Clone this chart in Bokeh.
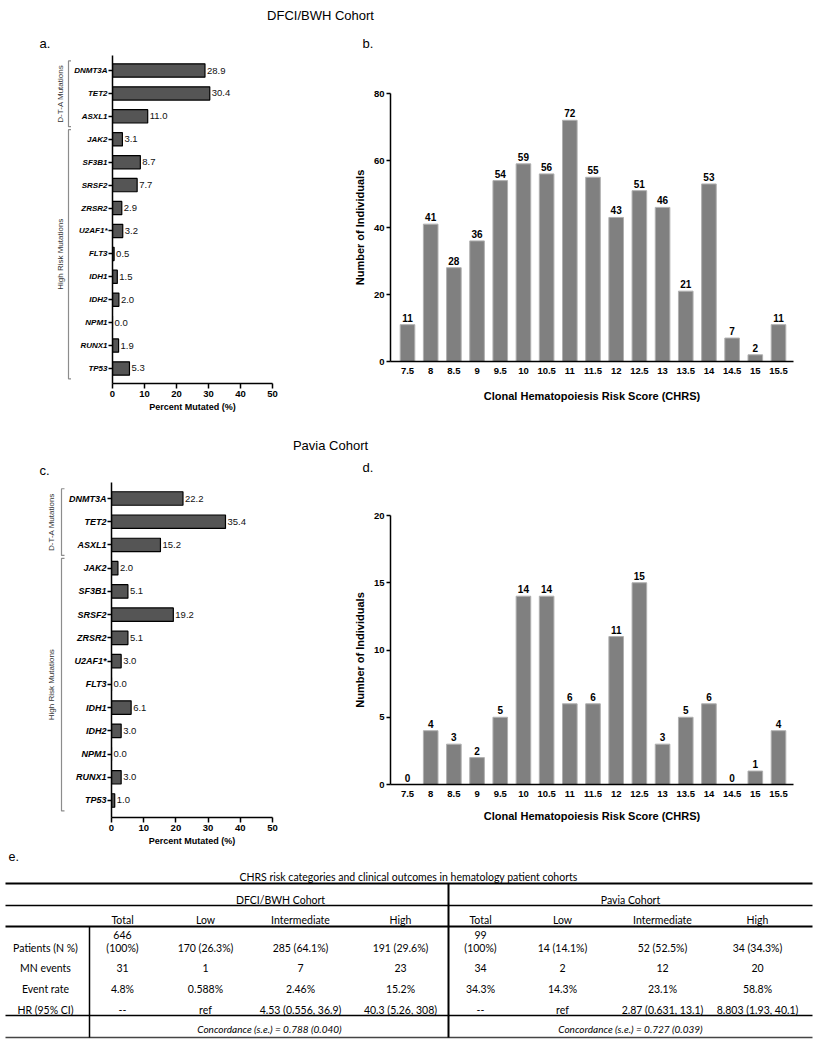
import math
from bokeh.plotting import figure
from bokeh.layouts import column, row
from bokeh.models import Range1d, FixedTicker
from bokeh.embed import file_html
from bokeh.resources import INLINE
from bokeh.core.properties import value

# ---------------- data ----------------
genes = ["DNMT3A", "TET2", "ASXL1", "JAK2", "SF3B1", "SRSF2", "ZRSR2",
         "U2AF1*", "FLT3", "IDH1", "IDH2", "NPM1", "RUNX1", "TP53"]
dfci_pct = [28.9, 30.4, 11.0, 3.1, 8.7, 7.7, 2.9, 3.2, 0.5, 1.5, 2.0, 0.0, 1.9, 5.3]
pavia_pct = [22.2, 35.4, 15.2, 2.0, 5.1, 19.2, 5.1, 3.0, 0.0, 6.1, 3.0, 0.0, 3.0, 1.0]
gene_groups = [("D-T-A Mutations", 0, 2), ("High Risk Mutations", 3, 13)]
pct_ticks = [0, 10, 20, 30, 40, 50]

chrs_scores = ["7.5", "8", "8.5", "9", "9.5", "10", "10.5", "11", "11.5",
               "12", "12.5", "13", "13.5", "14", "14.5", "15", "15.5"]
dfci_counts = [11, 41, 28, 36, 54, 59, 56, 72, 55, 43, 51, 46, 21, 53, 7, 2, 11]
pavia_counts = [0, 4, 3, 2, 5, 14, 14, 6, 6, 11, 15, 3, 5, 6, 0, 1, 4]
dfci_count_ticks = [0, 20, 40, 60, 80]
pavia_count_ticks = [0, 5, 10, 15, 20]

cohort_titles = ["DFCI/BWH Cohort", "Pavia Cohort"]
panel_tags = ["a.", "b.", "c.", "d.", "e."]
table_title = "CHRS risk categories and clinical outcomes in hematology patient cohorts"
risk_cols = ["Total", "Low", "Intermediate", "High"]
row_labels = ["Patients (N %)", "MN events", "Event rate", "HR (95% CI)"]
dfci_table = [["646\n(100%)", "170 (26.3%)", "285 (64.1%)", "191 (29.6%)"],
              ["31", "1", "7", "23"],
              ["4.8%", "0.588%", "2.46%", "15.2%"],
              ["--", "ref", "4.53 (0.556, 36.9)", "40.3 (5.26, 308)"]]
pavia_table = [["99\n(100%)", "14 (14.1%)", "52 (52.5%)", "34 (34.3%)"],
               ["34", "2", "12", "20"],
               ["34.3%", "14.3%", "23.1%", "58.8%"],
               ["--", "ref", "2.87 (0.631, 13.1)", "8.803 (1.93, 40.1)"]]
concordance = ["Concordance (s.e.) = 0.788 (0.040)", "Concordance (s.e.) = 0.727 (0.039)"]

FONT = "Liberation Sans"
TFONT = "Lato"
PAGE_W = 823


def make_fig(fig_left, fig_top, w, h, fl, ft, fw, fh, xr, yr):
    p = figure(width=w, height=h, x_range=xr, y_range=yr,
               toolbar_location=None, output_backend="svg", title=None,
               min_border_left=fl - fig_left,
               min_border_right=w - (fl - fig_left) - fw,
               min_border_top=ft - fig_top,
               min_border_bottom=h - (ft - fig_top) - fh)
    p.xgrid.visible = False
    p.ygrid.visible = False
    p.outline_line_color = None
    for ax in (p.xaxis[0], p.yaxis[0]):
        ax.axis_line_width = 1.5
        ax.axis_line_color = "black"
        ax.major_tick_line_width = 1.5
        ax.major_tick_in = 0
        ax.minor_tick_line_color = None
        ax.major_label_text_font = FONT
        ax.major_label_text_color = "black"
        ax.axis_label_text_font = FONT
        ax.axis_label_text_font_style = "bold"
        ax.axis_label_text_color = "black"
    return p


def blank(fig_left, fig_top, w, h):
    """figure whose data coordinates are page pixels (y downwards)"""
    p = figure(width=w, height=h, x_range=Range1d(fig_left, fig_left + w),
               y_range=Range1d(fig_top + h, fig_top), toolbar_location=None,
               output_backend="svg", title=None, min_border=0,
               x_axis_location=None, y_axis_location=None)
    p.xgrid.visible = False
    p.ygrid.visible = False
    p.outline_line_color = None
    return p


def gene_panel(pct, fig_left, fig_top, w, h, fl, ft, fw, fh, pad_bot, pad_top,
               gene_font, strip_w, br_x, br_tip, lab_x):
    n = len(genes)
    pos = [n - i for i in range(n)]
    yr = Range1d(1 - pad_bot, n + pad_top)
    p = make_fig(fig_left, fig_top, w, h, fl, ft, fw, fh, Range1d(0, 50), yr)
    p.hbar(y=pos, left=0, right=pct, height=0.58, fill_color="#555555",
           line_color="black", line_width=1.2)
    p.text(x=pct, y=pos, text=[f"{v:.1f}" for v in pct], x_offset=2,
           text_font=value(FONT), text_font_size="9.5px", text_align="left",
           text_baseline="middle", text_color="#111111")
    xa, ya = p.xaxis[0], p.yaxis[0]
    xa.ticker = FixedTicker(ticks=pct_ticks)
    xa.major_tick_out = 5
    xa.major_label_standoff = 2
    xa.major_label_text_font_size = "9.5px"
    xa.major_label_text_font_style = "bold"
    xa.axis_label = "Percent Mutated (%)"
    xa.axis_label_text_font_size = "9px"
    xa.axis_label_standoff = 2
    ya.ticker = FixedTicker(ticks=pos)
    ya.major_label_overrides = {pos[i]: g for i, g in enumerate(genes)}
    ya.major_tick_out = 4
    ya.major_label_standoff = 1
    ya.major_label_text_font_size = gene_font
    ya.major_label_text_font_style = "bold italic"

    # strip on the left holding the group brackets, sharing the y scale
    s = figure(width=strip_w, height=h, x_range=Range1d(fig_left - strip_w, fig_left),
               y_range=yr, toolbar_location=None, output_backend="svg", title=None,
               min_border_left=0, min_border_right=0,
               min_border_top=ft - fig_top, min_border_bottom=h - (ft - fig_top) - fh,
               x_axis_location=None, y_axis_location=None)
    s.xgrid.visible = False
    s.ygrid.visible = False
    s.outline_line_color = None
    for name, a, b in gene_groups:
        top = pos[a] + 0.42
        bot = pos[b] - 0.45
        s.line(x=[br_tip, br_x, br_x, br_tip], y=[top, top, bot, bot],
               line_color="#8c8c8c", line_width=1.2)
        s.text(x=[lab_x], y=[(top + bot) / 2], text=[name], angle=math.pi / 2,
               text_font=value(FONT), text_font_size="8px", text_align="center",
               text_baseline="middle", text_color="#333333")
    return s, p


def count_panel(counts, ticks, fig_left, fig_top, w, h, fl, ft, fw, fh, lab_std, title_std):
    idx = list(range(len(chrs_scores)))
    xr = Range1d(-0.733, len(chrs_scores) - 1 + 0.647)
    p = make_fig(fig_left, fig_top, w, h, fl, ft, fw, fh, xr, Range1d(ticks[0], ticks[-1]))
    p.vbar(x=idx, top=counts, width=0.63, fill_color="#808080", line_color="#b0b0b0", line_width=1)
    p.text(x=idx, y=counts, text=[str(c) for c in counts], y_offset=-3,
           text_font=value(FONT), text_font_size="10px", text_font_style="bold",
           text_align="center", text_baseline="bottom", text_color="black")
    xa, ya = p.xaxis[0], p.yaxis[0]
    xa.ticker = FixedTicker(ticks=idx)
    xa.major_label_overrides = {i: sc for i, sc in zip(idx, chrs_scores)}
    xa.major_tick_out = 0
    xa.major_tick_line_color = None
    xa.major_label_standoff = lab_std
    xa.major_label_text_font_size = "9.5px"
    xa.major_label_text_font_style = "bold"
    xa.axis_label = "Clonal Hematopoiesis Risk Score (CHRS)"
    xa.axis_label_text_font_size = "11px"
    xa.axis_label_standoff = title_std
    ya.ticker = FixedTicker(ticks=ticks)
    ya.major_tick_out = 4
    ya.major_label_standoff = 2
    ya.major_label_text_font_size = "9.5px"
    ya.major_label_text_font_style = "bold"
    ya.axis_label = "Number of Individuals"
    ya.axis_label_text_font_size = "11px"
    ya.axis_label_standoff = 5
    return p


def title_fig(fig_top, h, txt, cxy, tags, tag_xy):
    p = blank(0, fig_top, PAGE_W, h)
    p.text(x=[cxy[0]], y=[cxy[1]], text=[txt], text_font=value(FONT), text_font_size="13px",
           text_align="center", text_baseline="middle", text_color="black")
    p.text(x=[t[0] for t in tag_xy], y=[t[1] for t in tag_xy], text=tags,
           text_font=value(FONT), text_font_size="13px", text_align="left",
           text_baseline="middle", text_color="black")
    return p


# ---------------- panels ----------------
n = len(genes)

t1 = title_fig(0, 50, cohort_titles[0], (320, 15), panel_tags[0:2], [(39, 43), (362, 43)])
sa, pa = gene_panel(dfci_pct, 71, 50, 237, 380, 111, 55, 161, 328, 0.655, 0.655,
                    "8px", 71, 68, 72, 60)
pb = count_panel(dfci_counts, dfci_count_ticks, 308, 50, 515, 380, 390, 93, 403, 268, 6, 13)

t2 = title_fig(430, 48, cohort_titles[1], (330, 445), panel_tags[2:4], [(39, 470), (362, 467)])
sc, pc = gene_panel(pavia_pct, 66, 478, 242, 370, 110, 482, 162, 335, 0.732, 0.689,
                    "9px", 66, 61, 64, 51)
pd_ = count_panel(pavia_counts, pavia_count_ticks, 308, 478, 515, 370, 390, 515, 403, 269, 6, 10)

# ---------------- table ----------------
pt = blank(0, 848, PAGE_W, 200)
L, R = 5, 812
col_x = [[122, 205, 300, 400], [480, 562, 662, 757]]
cohort_cx = [280, 630]
conc_cx = [269, 630]
label_cx = 45
y_title, y_cohort, y_head = 876, 899, 919
row_y = [947, 967, 988, 1009]
y_conc = 1028
line_gap = 13

pt.text(x=[8], y=[856], text=[panel_tags[4]], text_font=value(FONT), text_font_size="12.5px",
        text_align="left", text_baseline="middle", text_color="black")

xs, ys, ts = [408], [y_title], [table_title]
for k, name in enumerate(cohort_titles):
    xs.append(cohort_cx[k]); ys.append(y_cohort); ts.append(name)
    for j, c in enumerate(risk_cols):
        xs.append(col_x[k][j]); ys.append(y_head); ts.append(c)
for r, lab in enumerate(row_labels):
    xs.append(label_cx); ys.append(row_y[r]); ts.append(lab)
for k, tab in enumerate([dfci_table, pavia_table]):
    for r, cells in enumerate(tab):
        for j, cell in enumerate(cells):
            lines = cell.split("\n")
            for m, line in enumerate(lines):
                xs.append(col_x[k][j])
                ys.append(row_y[r] - line_gap * (len(lines) - 1 - m))
                ts.append(line)
pt.text(x=xs, y=ys, text=ts, text_font=value(TFONT), text_font_size="10.5px",
        text_align="center", text_baseline="middle", text_color="black")
pt.text(x=conc_cx, y=[y_conc] * 2, text=concordance, text_font=value(TFONT),
        text_font_size="10px", text_font_style="italic", text_align="center",
        text_baseline="middle", text_color="black")

pt.segment(x0=[L, L], y0=[883, 926], x1=[R, R], y1=[883, 926], line_width=2, line_color="black")
pt.segment(x0=[L, L], y0=[905, 1015], x1=[R, R], y1=[905, 1015], line_width=1.5, line_color="black")
pt.segment(x0=[L], y0=[1037], x1=[R], y1=[1037], line_width=1.3, line_color="#444444")
pt.segment(x0=[89], y0=[926], x1=[89], y1=[1037], line_width=1.5, line_color="black")
pt.segment(x0=[448], y0=[883], x1=[448], y1=[1037], line_width=2, line_color="black")

layout = column(t1,
                row(column(sa), column(pa), column(pb)),
                t2,
                row(column(sc), column(pc), column(pd_)),
                pt)

open("out.html", "w").write(file_html(layout, INLINE))
